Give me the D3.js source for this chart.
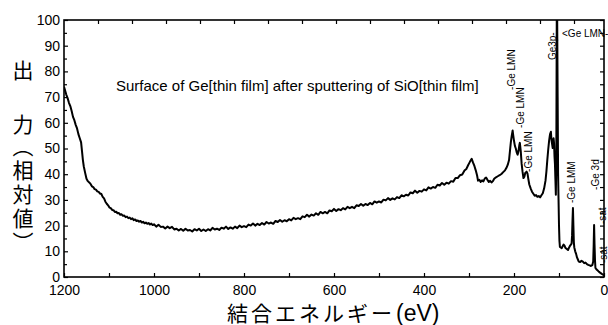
<!DOCTYPE html>
<html>
<head>
<meta charset="utf-8">
<script src="https://cdn.jsdelivr.net/npm/d3@7"></script>
<style>
  body { margin: 0; background: #fff; }
  svg text { font-family: "Liberation Sans", Arial, Helvetica, sans-serif; fill: #000; }
  svg text.jp { font-family: "Noto Sans CJK JP", sans-serif; }
</style>
</head>
<body>
<script>
// spectrum: binding energy (eV) and relative output
const energy = [
  1200, 1198, 1195, 1192, 1189, 1186, 1183, 1180, 1177, 1174, 1171, 1168, 1165, 1162, 1160, 1158, 1156, 1153, 1150, 1147,
  1144, 1141, 1138, 1135, 1132, 1129, 1126, 1123, 1120, 1117, 1114, 1111, 1108, 1105, 1102, 1099, 1096, 1093, 1090, 1087,
  1084, 1081, 1078, 1075, 1072, 1069, 1066, 1063, 1060, 1057, 1054, 1051, 1048, 1045, 1042, 1039, 1036, 1033, 1030, 1027,
  1024, 1021, 1018, 1015, 1012, 1009, 1006, 1003,
  1000, 995, 990, 985, 980, 975, 970, 965, 960, 955, 950, 945, 940, 935, 930, 925, 920, 915, 910, 905,
  900, 895, 890, 885, 880, 875, 870, 865, 860, 855, 850, 845, 840, 835, 830, 825, 820, 815, 810, 805,
  800, 795, 790, 785, 780, 775, 770, 765, 760, 755, 750, 745, 740, 735, 730, 725, 720, 715, 710, 705,
  700, 695, 690, 685, 680, 675, 670, 665, 660, 655, 650, 645, 640, 635, 630, 625, 620, 615, 610, 605,
  600, 595, 590, 585, 580, 575, 570, 565, 560, 555, 550, 545, 540, 535, 530, 525, 520, 515, 510, 505,
  500, 495, 490, 485, 480, 475, 470, 465, 460, 455, 450, 445, 440, 435, 430, 425, 420, 415, 410, 405,
  400, 395, 390, 385, 380, 375, 370, 365, 360, 355, 350, 345, 340, 335, 330, 325, 320, 315, 310, 306,
  302, 298, 294, 291, 288, 285, 282, 280, 277, 274, 271, 268, 265, 262, 259, 256, 253, 250, 247, 244,
  240, 236, 232, 228, 224, 220, 217, 214, 211, 209, 207, 205, 203, 202, 200, 198, 196, 194, 192, 190,
  188, 187, 185, 183, 181, 179, 177, 175, 172, 170, 168, 166, 163, 160, 157, 154, 151, 148, 145, 142,
  139, 136, 133, 130, 128, 126, 124, 122, 120, 118, 117, 116, 114, 113, 112, 111, 110, 109, 108, 107,
  106, 105, 104, 103, 102, 101, 100, 99, 98, 96, 94, 92, 90, 88, 86, 84, 82, 80, 78, 76,
  74, 72, 71, 70, 69, 68, 67, 66, 64, 62, 60, 58, 56, 53, 50, 47, 44, 41, 38, 35,
  32, 29, 26, 24, 23, 22, 21, 20, 19, 17, 14, 11, 8, 5, 2, 0
];
const intensity = [
  74.0, 72.8, 71.0, 69.6, 67.8, 66.5, 64.6, 62.3, 61.0, 59.2, 57.8, 55.6, 54.0, 52.4, 49.0, 45.5, 43.0, 40.5, 38.2, 37.3,
  36.8, 36.2, 35.3, 35.0, 34.2, 34.0, 33.3, 33.1, 32.5, 32.3, 31.2, 30.6, 29.3, 28.5, 27.9, 27.0, 26.8, 26.1, 26.0, 25.3,
  25.4, 24.8, 24.9, 24.2, 24.4, 23.8, 23.9, 23.3, 23.5, 22.9, 23.1, 22.5, 22.8, 22.1, 22.4, 21.8, 22.0, 21.5, 21.8, 21.2,
  21.5, 20.9, 21.2, 20.7, 21.0, 20.4, 20.8, 20.2,
  20.5, 19.6, 20.3, 19.5, 19.6, 18.9, 19.6, 19.0, 19.5, 18.5, 18.8, 18.1, 18.7, 18.0, 18.8, 18.1, 18.3, 17.7, 18.6, 18.1,
  18.8, 17.9, 18.5, 17.9, 18.6, 18.1, 19.1, 18.5, 18.8, 18.3, 19.2, 18.8, 19.6, 18.7, 19.3, 18.8, 19.6, 19.0, 20.0, 19.4,
  19.8, 19.4, 20.4, 20.0, 20.8, 20.0, 20.7, 20.2, 21.0, 20.4, 21.4, 20.8, 21.2, 20.7, 21.8, 21.4, 22.2, 21.5, 22.1, 21.7,
  22.5, 22.0, 23.0, 22.5, 22.9, 22.5, 23.6, 23.3, 24.2, 23.5, 24.3, 23.9, 24.8, 24.2, 25.3, 24.8, 25.3, 24.8, 25.9, 25.6,
  26.5, 25.7, 26.4, 26.0, 26.8, 26.3, 27.3, 26.8, 27.3, 26.8, 27.9, 27.6, 28.4, 27.7, 28.4, 28.0, 28.8, 28.3, 29.4, 28.9,
  29.4, 29.0, 30.1, 29.8, 30.7, 30.0, 30.6, 30.2, 31.1, 30.7, 31.8, 31.4, 32.0, 31.7, 32.9, 32.6, 33.6, 32.8, 33.5, 33.2,
  34.1, 33.7, 34.9, 34.4, 35.0, 34.7, 35.9, 35.6, 36.6, 35.9, 36.7, 36.3, 37.3, 37.1, 38.5, 38.5, 39.6, 39.9, 41.4, 42.0,
  43.5, 44.8, 46.0, 44.5, 43.2, 41.5, 39.5, 37.5, 37.8, 37.0, 37.6, 37.2, 38.3, 38.7, 37.8, 37.0, 37.4, 36.8, 37.3, 38.2,
  38.8, 39.2, 39.6, 40.1, 40.8, 41.5, 42.4, 43.6, 45.5, 49.0, 52.5, 55.0, 57.0, 55.5, 53.0, 51.0, 50.0, 48.5, 47.6, 49.0,
  51.5, 52.2, 49.0, 44.0, 41.0, 38.5, 39.0, 40.5, 41.0, 40.2, 38.0, 36.0, 34.5, 33.2, 32.4, 31.6, 31.9, 31.2, 31.5, 31.0,
  31.8, 32.6, 34.5, 37.5, 41.0, 45.5, 49.5, 53.0, 55.5, 56.5, 54.0, 52.5, 50.2, 51.8, 54.0, 52.0, 47.0, 44.0, 38.0, 32.0,
  45.0, 100, 100, 70.0, 40.0, 30.0, 20.0, 14.0, 11.7, 11.5, 11.2, 11.9, 12.6, 12.3, 11.4, 11.1, 10.8, 10.5, 11.3, 12.0,
  12.5, 13.0, 16.0, 22.0, 26.8, 20.0, 13.5, 11.5, 10.0, 9.0, 7.6, 6.8, 6.0, 5.8, 6.3, 6.0, 5.4, 5.6, 5.0, 4.7,
  4.5, 4.3, 4.6, 6.0, 12.0, 20.2, 12.5, 6.5, 3.5, 3.0, 2.5, 2.0, 1.6, 1.2, 0.9, 0.6
];

const xTickValues = [1200, 1000, 800, 600, 400, 200, 0];
const xMinorValues = [1100, 900, 700, 500, 300, 100];
const yTickValues = [0, 10, 20, 30, 40, 50, 60, 70, 80, 90, 100];
const yMinorValues = [5, 15, 25, 35, 45, 55, 65, 75, 85, 95];
const topTickIndex = [1, 2, 3, 4, 5, 6, 7, 8, 9, 10, 11, 12, 13, 14, 15];

const titleText = "Surface of Ge[thin film] after sputtering of SiO[thin film]";
const xTitleKana = "結合エネルギー";
const xTitleUnit = "(eV)";
const yTitleWords = ["出", "力", "（相対値）"];

const peakLabels = ["-Ge LMN", "-Ge LMN", "-Ge LMN", "Ge3p-", "<Ge LMN-", "-Ge LMM", "-Ge 3d", "-sat", "-sat"];
const peakLabelEnergy = [198, 178, 160, 106.7, 93.3, 64.4, 11.1, -4.4, -6.7];
const peakLabelLevel = [72.8, 58, 40.9, 84.4, 93.4, 28.8, 33.9, 20.6, 5.4];
const peakLabelUpright = [false, false, false, false, true, false, false, false, false];

const width = 608;
const height = 325;
const plotLeft = 64, plotRight = 604, plotTop = 20, plotBottom = 277;

const svg = d3.select("body").append("svg")
    .attr("width", width)
    .attr("height", height);

const xScale = d3.scaleLinear().domain([1200, 0]).range([plotLeft, plotRight]);
const yScale = d3.scaleLinear().domain([0, 100]).range([plotBottom, plotTop]);
const topScale = d3.scaleLinear().domain([0, 16]).range([plotLeft, plotLeft + 34 * 16]);

// axes, all ticks pointing inward
const bottomAxis = svg.append("g")
    .attr("transform", `translate(0, ${plotBottom})`)
    .call(d3.axisBottom(xScale).tickValues(xTickValues).tickSize(-4).tickSizeOuter(0).tickPadding(8).tickFormat(d3.format("d")));
bottomAxis.append("g")
    .call(d3.axisBottom(xScale).tickValues(xMinorValues).tickSize(-4).tickSizeOuter(0).tickFormat(""));

const leftAxis = svg.append("g")
    .attr("transform", `translate(${plotLeft}, 0)`)
    .call(d3.axisLeft(yScale).tickValues(yTickValues).tickSize(-4).tickSizeOuter(0).tickPadding(4));
leftAxis.append("g")
    .call(d3.axisLeft(yScale).tickValues(yMinorValues).tickSize(-3).tickSizeOuter(0).tickFormat(""));

svg.append("g")
    .attr("transform", `translate(0, ${plotTop})`)
    .call(d3.axisTop(topScale).tickValues(topTickIndex).tickSize(-4).tickSizeOuter(0).tickFormat(""));

svg.append("g")
    .attr("transform", `translate(${plotRight}, 0)`)
    .call(d3.axisRight(yScale).tickValues(yTickValues.concat(yMinorValues)).tickSize(-4).tickSizeOuter(0).tickFormat(""));

svg.selectAll(".domain").remove();
svg.selectAll(".tick line").attr("stroke", "#000").attr("stroke-width", 1.2);
svg.selectAll(".tick text").style("font-size", "14px").attr("fill", "#000");

svg.append("rect")
    .attr("x", plotLeft)
    .attr("y", plotTop)
    .attr("width", plotRight - plotLeft)
    .attr("height", plotBottom - plotTop)
    .attr("fill", "none")
    .attr("stroke", "#000")
    .attr("stroke-width", 1.6);

// spectrum
svg.append("clipPath").attr("id", "plot-clip")
    .append("rect")
    .attr("x", plotLeft).attr("y", plotTop)
    .attr("width", plotRight - plotLeft).attr("height", plotBottom - plotTop);

const line = d3.line()
    .x((d, i) => xScale(energy[i]))
    .y((d, i) => yScale(intensity[i]));

svg.append("path")
    .datum(intensity)
    .attr("clip-path", "url(#plot-clip)")
    .attr("d", line)
    .attr("fill", "none")
    .attr("stroke", "#000")
    .attr("stroke-width", 2)
    .attr("stroke-linejoin", "round");

// text
svg.append("text")
    .attr("x", 116)
    .attr("y", 91)
    .style("font-size", "15px")
    .text(titleText);

const xTitle = svg.append("text")
    .attr("class", "jp")
    .attr("x", 227)
    .attr("y", 321)
    .style("font-size", "21px")
    .style("letter-spacing", "3px");
xTitle.append("tspan").text(xTitleKana);
xTitle.append("tspan")
    .attr("dx", 1)
    .style("font-family", "'Liberation Sans', Arial, sans-serif")
    .style("font-size", "23px")
    .style("letter-spacing", "0px")
    .text(xTitleUnit);

// y title is set vertically so the brackets take their vertical forms
const yTitleTop = [60, 114, 136];
svg.selectAll(".ytitle")
    .data(yTitleWords)
    .enter()
    .append("text")
    .attr("class", "jp ytitle")
    .attr("x", 23)
    .attr("y", (d, i) => yTitleTop[i])
    .style("writing-mode", "vertical-rl")
    .style("font-size", "21px")
    .style("letter-spacing", "3px")
    .text(d => d);

svg.selectAll(".peak")
    .data(peakLabels)
    .enter()
    .append("text")
    .attr("class", "peak")
    .attr("transform", (d, i) => {
        const x = xScale(peakLabelEnergy[i]);
        const y = yScale(peakLabelLevel[i]);
        return peakLabelUpright[i] ? `translate(${x}, ${y})` : `translate(${x}, ${y}) rotate(-90)`;
    })
    .style("font-size", "10px")
    .text(d => d);
</script>
</body>
</html>
